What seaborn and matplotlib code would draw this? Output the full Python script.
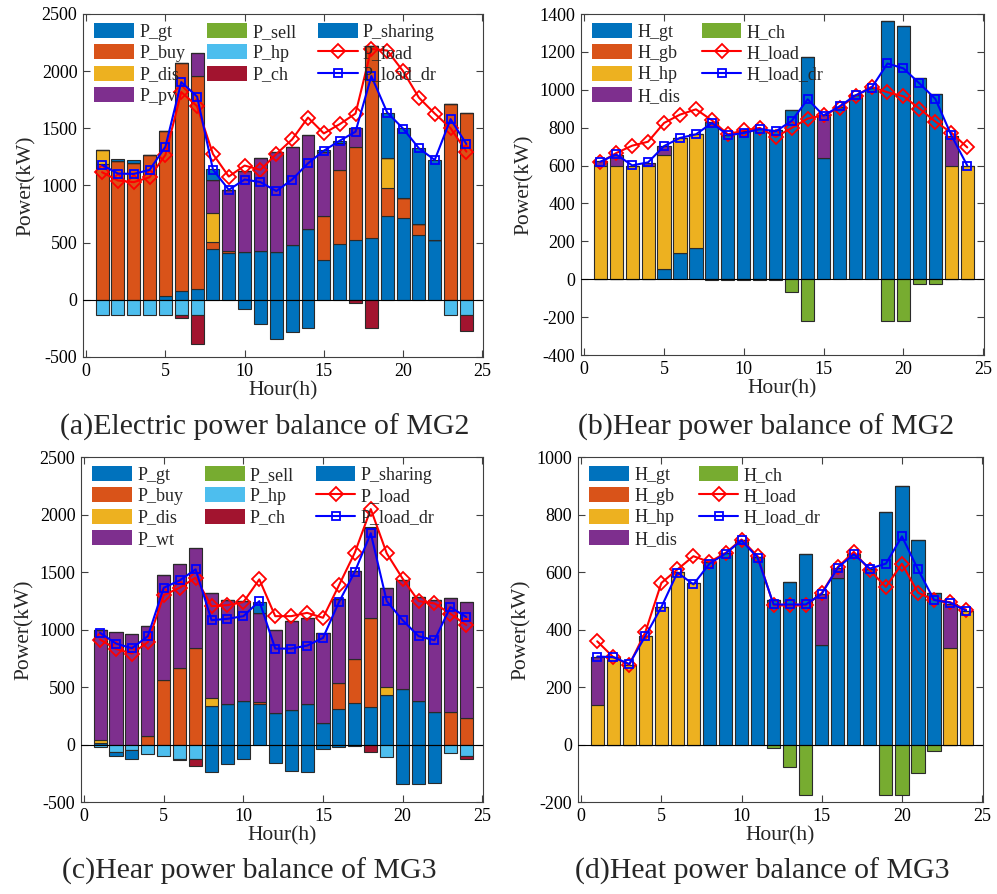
import numpy as np
import matplotlib
matplotlib.use("Agg")
import matplotlib.pyplot as plt
import seaborn as sns
from matplotlib.patches import Patch
from matplotlib.lines import Line2D

hours = list(range(1, 25))

# ---- MG2 electric power (kW) ----
p_gt_mg2 = [0, 0, 0, 0, 30, 78, 93, 442, 413, 416, 427, 421, 477, 622, 346, 485, 520, 538, 733, 712, 564, 520, 0, 0]
p_buy_mg2 = [1188, 1210, 1197, 1265, 1445, 1992, 1861, 64, 10, 0, 0, 0, 0, 0, 389, 651, 813, 1679, 247, 181, 96, 5, 1710, 1632]
p_dis_mg2 = [122, 0, 0, 0, 0, 0, 0, 250, 0, 0, 0, 0, 0, 0, 0, 0, 0, 0, 260, 0, 0, 0, 0, 0]
p_pv_mg2 = [0, 0, 0, 0, 0, 0, 205, 293, 537, 711, 816, 872, 862, 819, 555, 232, 171, 0, 0, 0, 0, 0, 0, 0]
p_sell_mg2 = [0] * 24
p_hp_mg2 = [-131, -131, -137, -137, -137, -131, -131, 0, 0, 0, 0, 0, 0, 0, 0, 0, 0, 0, 0, 0, 0, 0, -131, -131]
p_ch_mg2 = [0, 0, 0, 0, 0, -32, -256, 0, 0, 0, 0, 0, 0, 0, 0, 0, -32, -247, 0, 0, 0, 0, 0, -139]
p_sharing_mg2 = [0, 20, 25, 0, 0, 0, 0, 93, 0, -78, -212, -340, -285, -244, 20, 17, 0, 0, 392, 608, 665, 701, 0, 0]
p_load_mg2 = [1116, 1043, 1029, 1072, 1267, 1817, 1693, 1275, 1078, 1174, 1136, 1275, 1403, 1594, 1455, 1536, 1629, 2194, 2180, 2000, 1768, 1629, 1501, 1296]
p_load_dr_mg2 = [1180, 1104, 1101, 1136, 1339, 1904, 1777, 1139, 962, 1052, 1029, 951, 1052, 1194, 1304, 1391, 1470, 1957, 1638, 1498, 1325, 1223, 1580, 1362]

# ---- MG2 heat power (kW) ----
h_gt_mg2 = [0, 0, 0, 0, 53, 139, 164, 830, 763, 783, 795, 786, 896, 1171, 642, 910, 975, 1007, 1361, 1337, 1063, 978, 0, 0]
h_gb_mg2 = [0] * 24
h_hp_mg2 = [600, 600, 600, 600, 601, 607, 605, 0, 0, 0, 0, 0, 0, 0, 0, 0, 0, 0, 0, 0, 0, 0, 600, 600]
h_dis_mg2 = [22, 57, 0, 15, 49, 0, 0, 0, 0, 0, 0, 0, 0, 0, 224, 0, 0, 0, 0, 0, 0, 0, 156, 0]
h_ch_mg2 = [0, 0, 0, 0, 0, 0, 0, -4, -4, -4, -4, -4, -69, -222, 0, 0, 0, 0, -222, -222, -26, -26, 0, 0]
h_load_mg2 = [617, 666, 705, 726, 825, 869, 897, 839, 765, 786, 799, 751, 799, 848, 866, 906, 968, 1016, 987, 966, 901, 832, 774, 696]
h_load_dr_mg2 = [620, 659, 601, 617, 703, 746, 765, 825, 760, 772, 793, 781, 836, 950, 864, 913, 971, 1010, 1139, 1113, 1034, 952, 760, 600]

# ---- MG3 electric power (kW) ----
p_gt_mg3 = [10, 0, 0, 0, 0, 0, 0, 332, 355, 381, 353, 275, 303, 355, 188, 309, 361, 324, 434, 483, 381, 283, 0, 0]
p_buy_mg3 = [0, 0, 0, 75, 558, 665, 840, 0, 0, 0, 17, 0, 0, 0, 0, 226, 382, 772, 0, 0, 0, 0, 283, 231]
p_dis_mg3 = [30, 0, 0, 0, 0, 0, 0, 73, 0, 0, 0, 0, 0, 0, 0, 0, 0, 0, 66, 0, 0, 0, 0, 0]
p_wt_mg3 = [960, 977, 962, 954, 919, 908, 869, 915, 904, 866, 775, 725, 770, 747, 783, 732, 766, 784, 863, 947, 904, 970, 993, 1007]
p_sell_mg3 = [0] * 24
p_hp_mg3 = [-23, -64, -52, -81, -101, -124, -124, 0, 0, 0, 0, 0, 0, 0, 0, 0, 0, 0, -110, 0, 0, 0, -72, -101]
p_ch_mg3 = [0, 0, 0, 0, 0, -15, -64, 0, 0, 0, 0, 0, 0, 0, 0, 0, 0, -64, 0, 0, 0, 0, 0, -29]
p_sharing_mg3 = [0, -37, -72, 0, 0, 0, 0, -237, -168, -124, 93, -159, -234, -237, -43, -23, -9, 10, 0, -341, -341, -332, 0, 0]
p_load_mg3 = [913, 831, 791, 890, 1299, 1363, 1451, 1203, 1212, 1238, 1436, 1116, 1116, 1145, 1102, 1384, 1669, 2047, 1663, 1442, 1247, 1227, 1137, 1038]
p_load_dr_mg3 = [971, 878, 837, 942, 1363, 1427, 1523, 1081, 1093, 1116, 1247, 834, 834, 860, 927, 1238, 1503, 1837, 1247, 1081, 942, 907, 1195, 1108]

# ---- MG3 heat power (kW) ----
h_gt_mg3 = [0, 0, 0, 0, 0, 0, 0, 634, 667, 713, 652, 501, 566, 662, 346, 579, 662, 612, 807, 899, 710, 527, 0, 0]
h_gb_mg3 = [0] * 24
h_hp_mg3 = [139, 304, 277, 377, 480, 600, 562, 0, 0, 0, 0, 0, 0, 0, 0, 0, 0, 0, 0, 0, 0, 0, 335, 465]
h_dis_mg3 = [167, 0, 0, 0, 0, 0, 0, 0, 0, 0, 0, 0, 0, 0, 178, 36, 0, 0, 0, 0, 0, 0, 155, 0]
h_ch_mg3 = [0, 0, 0, 0, 0, 0, 0, 0, 0, 0, 0, -12, -79, -175, 0, 0, 0, 0, -175, -175, -99, -21, 0, 0]
h_load_mg3 = [359, 304, 277, 391, 562, 609, 655, 635, 666, 713, 655, 484, 484, 484, 527, 617, 670, 606, 548, 629, 528, 503, 495, 469]
h_load_dr_mg3 = [306, 304, 280, 377, 478, 598, 557, 629, 664, 710, 650, 487, 487, 487, 524, 615, 662, 612, 629, 724, 609, 503, 493, 465]

captions = ["(a)Electric power balance of MG2", "(b)Hear power balance of MG2",
            "(c)Hear power balance of MG3", "(d)Heat power balance of MG3"]

BLUE = "#0072BD"
ORANGE = "#D95319"
YELLOW = "#EDB120"
PURPLE = "#7E2F8E"
GREEN = "#77AC30"
CYAN = "#4DBEEE"
DARKRED = "#A2142F"

sns.set_theme(style="ticks")
plt.rcParams["font.family"] = ["Liberation Serif", "DejaVu Serif"]
plt.rcParams["axes.unicode_minus"] = False

fig = plt.figure(figsize=(9.97, 8.94), dpi=100)
axes = [
    fig.add_axes([0.0833, 0.6007, 0.4012, 0.3837]),
    fig.add_axes([0.5828, 0.6029, 0.4042, 0.3814]),
    fig.add_axes([0.0812, 0.1029, 0.4033, 0.3859]),
    fig.add_axes([0.5797, 0.1029, 0.4062, 0.3859]),
]


def stacked_bars(ax, layers):
    x = np.asarray(hours, float)
    pos = np.zeros(len(x))
    neg = np.zeros(len(x))
    handles = []
    for name, vals, color in layers:
        v = np.asarray(vals, float)
        base = np.where(v >= 0, pos, neg)
        ax.bar(x, v, 0.82, bottom=base, color=color, edgecolor="#2a2a2a",
               linewidth=0.8, zorder=2)
        pos += np.clip(v, 0, None)
        neg += np.clip(v, None, 0)
        handles.append(Patch(facecolor=color, edgecolor="none", label=name))
    return handles


def load_lines(ax, load, load_dr, names):
    sns.lineplot(x=hours, y=load, ax=ax, color="red", linewidth=1.5, marker="D",
                 markersize=7, markerfacecolor="none", markeredgecolor="red",
                 markeredgewidth=1.3, legend=False, zorder=4)
    sns.lineplot(x=hours, y=load_dr, ax=ax, color="blue", linewidth=1.5, marker="s",
                 markersize=5.5, markerfacecolor="none", markeredgecolor="blue",
                 markeredgewidth=1.3, legend=False, zorder=5)
    return [
        Line2D([], [], color="red", lw=1.5, marker="D", ms=7, mfc="none", mec="red", mew=1.3, label=names[0]),
        Line2D([], [], color="blue", lw=1.5, marker="s", ms=5.5, mfc="none", mec="blue", mew=1.3, label=names[1]),
    ]


def style_axes(ax, ylim, yticks):
    ax.set_xlim(-0.2, 25.05)
    ax.set_xticks(range(0, 26, 5))
    ax.set_ylim(*ylim)
    ax.set_yticks(yticks)
    ax.axhline(0, color="black", lw=0.8, zorder=3)
    ax.tick_params(direction="in", top=True, right=True, length=5, width=0.8,
                   labelsize=13, color="#404040", labelcolor="black", pad=4)
    for s in ax.spines.values():
        s.set_color("#404040")
        s.set_linewidth(0.8)
    ax.set_xlabel("Hour(h)", fontsize=15.5, labelpad=1.5)
    ax.set_ylabel("Power(kW)", fontsize=15.5, labelpad=4)


legend_kw = dict(loc="upper left", bbox_to_anchor=(0.005, 1.0), frameon=False,
                 fontsize=13, handlelength=2.2, handleheight=0.9, labelspacing=0.2,
                 columnspacing=1.2, handletextpad=0.3, borderaxespad=0.1)

# (a)
ax = axes[0]
h = stacked_bars(ax, [("P_gt", p_gt_mg2, BLUE), ("P_buy", p_buy_mg2, ORANGE),
                      ("P_dis", p_dis_mg2, YELLOW), ("P_pv", p_pv_mg2, PURPLE),
                      ("P_sell", p_sell_mg2, GREEN), ("P_hp", p_hp_mg2, CYAN),
                      ("P_ch", p_ch_mg2, DARKRED), ("P_sharing", p_sharing_mg2, BLUE)])
h += load_lines(ax, p_load_mg2, p_load_dr_mg2, ["P_load", "P_load_dr"])
style_axes(ax, (-500, 2500), range(-500, 2501, 500))
ax.legend(handles=h, ncol=3, **legend_kw)

# (b)
ax = axes[1]
h = stacked_bars(ax, [("H_gt", h_gt_mg2, BLUE), ("H_gb", h_gb_mg2, ORANGE),
                      ("H_hp", h_hp_mg2, YELLOW), ("H_dis", h_dis_mg2, PURPLE),
                      ("H_ch", h_ch_mg2, GREEN)])
h += load_lines(ax, h_load_mg2, h_load_dr_mg2, ["H_load", "H_load_dr"])
style_axes(ax, (-400, 1400), range(-400, 1401, 200))
ax.legend(handles=h, ncol=2, **legend_kw)

# (c)
ax = axes[2]
h = stacked_bars(ax, [("P_gt", p_gt_mg3, BLUE), ("P_buy", p_buy_mg3, ORANGE),
                      ("P_dis", p_dis_mg3, YELLOW), ("P_wt", p_wt_mg3, PURPLE),
                      ("P_sell", p_sell_mg3, GREEN), ("P_hp", p_hp_mg3, CYAN),
                      ("P_ch", p_ch_mg3, DARKRED), ("P_sharing", p_sharing_mg3, BLUE)])
h += load_lines(ax, p_load_mg3, p_load_dr_mg3, ["P_load", "P_load_dr"])
style_axes(ax, (-500, 2500), range(-500, 2501, 500))
ax.legend(handles=h, ncol=3, **legend_kw)

# (d)
ax = axes[3]
h = stacked_bars(ax, [("H_gt", h_gt_mg3, BLUE), ("H_gb", h_gb_mg3, ORANGE),
                      ("H_hp", h_hp_mg3, YELLOW), ("H_dis", h_dis_mg3, PURPLE),
                      ("H_ch", h_ch_mg3, GREEN)])
h += load_lines(ax, h_load_mg3, h_load_dr_mg3, ["H_load", "H_load_dr"])
style_axes(ax, (-200, 1000), range(-200, 1001, 200))
ax.legend(handles=h, ncol=2, **legend_kw)

# captions under each panel
for (cx, cy), text in zip([(0.060, 0.522), (0.580, 0.522), (0.062, 0.025), (0.577, 0.025)], captions):
    fig.text(cx, cy, text, ha="left", va="center", fontsize=21.5)

fig.savefig("out.png", dpi=100)
